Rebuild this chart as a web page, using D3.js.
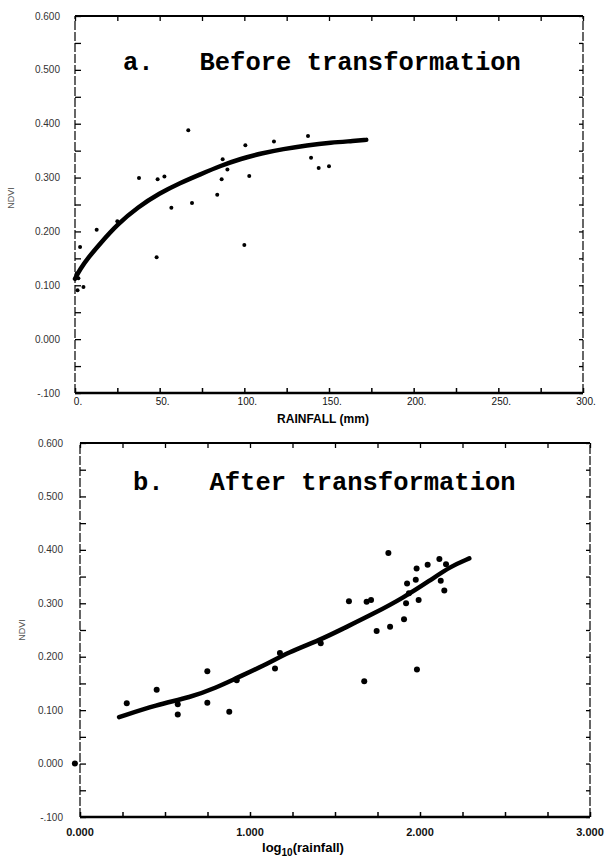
<!DOCTYPE html>
<html><head><meta charset="utf-8">
<script src="https://cdn.jsdelivr.net/npm/d3@7"></script>
<style>body{margin:0;background:#fff}svg{display:block}</style>
</head><body>
<script>
// ---- Panel a data (rainfall mm vs NDVI) ----
const aPointsX = [37.8,48.8,52.8,84,69.1,56.9,25,12.8,3,48.2,1,2,5,1.5,100.6,117.5,137.6,87.2,90,102.9,86.6,100,139.4,143.9,150,66.9];
const aPointsY = [0.299,0.297,0.302,0.268,0.253,0.244,0.219,0.203,0.171,0.152,0.122,0.113,0.097,0.091,0.360,0.367,0.377,0.334,0.315,0.303,0.297,0.175,0.337,0.318,0.321,0.388];
const aCurveX = [0,3,8,15,25,37,50,62,74,86,98,110,123,137,151,165,172];
const aCurveY = [0.112,0.13,0.152,0.178,0.213,0.245,0.271,0.290,0.306,0.322,0.335,0.345,0.353,0.360,0.365,0.368,0.370];
const aXTicks = [0,50,100,150,200,250,300];
const aXTickLabels = ["0.","50.","100.","150.","200.","250.","300."];
// ---- Panel b data (log10 rainfall vs NDVI) ----
const bPointsX = [0.275,0.451,0.575,0.575,0.749,0.749,0.878,0.922,1.147,1.176,1.814,2.114,2.045,1.98,2.153,1.975,1.924,2.122,2.143,1.935,1.992,1.918,1.582,1.686,1.712,1.906,1.824,1.745,1.416,1.982,1.672,-0.03];
const bPointsY = [0.113,0.138,0.111,0.092,0.173,0.114,0.097,0.156,0.178,0.207,0.394,0.383,0.372,0.365,0.373,0.344,0.337,0.342,0.324,0.319,0.306,0.300,0.304,0.303,0.306,0.270,0.256,0.248,0.225,0.176,0.154,0.0];
const bCurveX = [0.23,0.45,0.65,0.80,0.92,1.08,1.23,1.41,1.55,1.73,1.90,2.06,2.18,2.29];
const bCurveY = [0.087,0.110,0.124,0.142,0.160,0.183,0.209,0.231,0.253,0.281,0.310,0.343,0.369,0.384];
const bXTicks = [0,1,2,3];
const bXTickLabels = ["0.000","1.000","2.000","3.000"];
// ---- shared y ticks ----
const yTicks = [0.6,0.5,0.4,0.3,0.2,0.1,0.0,-0.1];
const yTickLabels = ["0.600","0.500","0.400","0.300","0.200","0.100","0.000","-.100"];

const svg = d3.select("body").append("svg").attr("width",606).attr("height",864);

function panel(cfg){
  const x = d3.scaleLinear().domain(cfg.xDomain).range(cfg.xRange);
  const y = d3.scaleLinear().domain([-0.1,0.6]).range(cfg.yRange);
  const g = svg.append("g");
  const [x0,x1] = cfg.xRange, [y0,y1] = cfg.yRange;
  g.append("line").attr("x1",x0).attr("x2",x1).attr("y1",y0).attr("y2",y0).attr("stroke","#000").attr("stroke-width",2.5);
  g.append("line").attr("x1",x0).attr("x2",x1).attr("y1",y1).attr("y2",y1).attr("stroke","#000").attr("stroke-width",2);
  g.append("line").attr("x1",x0).attr("x2",x0).attr("y1",y0).attr("y2",y1).attr("stroke","#000").attr("stroke-width",1.2).attr("stroke-dasharray","9,2");
  g.append("line").attr("x1",x1).attr("x2",x1).attr("y1",y0).attr("y2",y1).attr("stroke","#000").attr("stroke-width",1.2).attr("stroke-dasharray","9,2");
  const xMinor = d3.range(cfg.xDomain[0], cfg.xDomain[1]+1e-9, cfg.xMinorStep);
  const yMinor = d3.range(-0.1, 0.6+1e-9, 0.05);
  const bx = d3.axisBottom(x).tickValues(xMinor).tickSize(-5).tickFormat("");
  g.append("g").attr("transform",`translate(0,${y0})`).call(bx).call(s=>{s.select(".domain").remove();s.selectAll("line").attr("stroke-width",1.5);});
  const tx = d3.axisTop(x).tickValues(xMinor).tickSize(-5).tickFormat("");
  g.append("g").attr("transform",`translate(0,${y1})`).call(tx).call(s=>{s.select(".domain").remove();s.selectAll("line").attr("stroke-width",1.3);});
  const ly = d3.axisLeft(y).tickValues(yMinor).tickSize(-6).tickFormat("");
  g.append("g").attr("transform",`translate(${x0},0)`).call(ly).call(s=>{s.select(".domain").remove();s.selectAll("line").attr("stroke-width",1.3);});
  const ry = d3.axisRight(y).tickValues(yMinor).tickSize(-4).tickFormat("");
  g.append("g").attr("transform",`translate(${x1},0)`).call(ry).call(s=>{s.select(".domain").remove();s.selectAll("line").attr("stroke-width",1.3);});
  g.selectAll(".yl").data(yTicks).join("text").attr("x",x0-cfg.yLabelOff).attr("y",d=>y(d)+3.5)
    .attr("text-anchor","end").attr("font-family","Liberation Sans, Arial, sans-serif").attr("font-size",10).attr("fill","#333")
    .text((d,i)=>yTickLabels[i]);
  g.selectAll(".xl").data(cfg.xTicks).join("text").attr("x",d=>x(d)+cfg.xLabelShift).attr("y",y0+cfg.xLabelDy)
    .attr("text-anchor","middle").attr("font-family","Liberation Sans, Arial, sans-serif").attr("font-size",cfg.xLabelSize).attr("font-weight",cfg.xLabelWeight).attr("fill","#111")
    .text((d,i)=>cfg.xTickLabels[i]);
  const line = d3.line().x(d=>x(d[0])).y(d=>y(d[1])).curve(d3.curveBasis);
  g.append("path").datum(cfg.curveX.map((v,i)=>[v,cfg.curveY[i]])).attr("d",line)
    .attr("fill","none").attr("stroke","#000").attr("stroke-width",4.5).attr("stroke-linecap","round");
  g.selectAll(".pt").data(cfg.ptsX.map((v,i)=>[v,cfg.ptsY[i]])).join("circle")
    .attr("cx",d=>x(d[0])).attr("cy",d=>y(d[1])).attr("r",cfg.r).attr("fill","#000");
  g.append("text").attr("x",cfg.titleX).attr("y",cfg.titleY).attr("xml:space","preserve").style("white-space","pre")
    .attr("font-family","Liberation Mono, Courier New, monospace").attr("font-weight","bold").attr("font-size",25.5).attr("fill","#000")
    .text(cfg.title);
  g.append("text").attr("transform",`translate(${cfg.yTitleX},${cfg.yTitleY}) rotate(-90)`).attr("text-anchor","middle")
    .attr("font-family","Liberation Sans, Arial, sans-serif").attr("font-size",9).attr("fill","#555").text("NDVI");
  return {x,y,g};
}

const A = panel({xDomain:[0,300],xRange:[75,583],yRange:[393,16],xMinorStep:25,xTicks:aXTicks,xTickLabels:aXTickLabels,
  xLabelShift:3,xLabelDy:12,xLabelSize:10,xLabelWeight:"normal",yLabelOff:15,
  curveX:aCurveX,curveY:aCurveY,ptsX:aPointsX,ptsY:aPointsY,r:2,
  title:"a.   Before transformation",titleX:123,titleY:70,yTitleX:14,yTitleY:198});
A.g.append("text").attr("x",323).attr("y",423).attr("text-anchor","middle")
  .attr("font-family","Liberation Sans, Arial, sans-serif").attr("font-weight","bold").attr("font-size",12).attr("fill","#000")
  .text("RAINFALL (mm)");

const B = panel({xDomain:[0,3],xRange:[80,590],yRange:[817,443],xMinorStep:0.25,xTicks:bXTicks,xTickLabels:bXTickLabels,
  xLabelShift:0,xLabelDy:19,xLabelSize:11,xLabelWeight:"bold",yLabelOff:17,
  curveX:bCurveX,curveY:bCurveY,ptsX:bPointsX,ptsY:bPointsY,r:3,
  title:"b.   After transformation",titleX:133,titleY:490,yTitleX:25,yTitleY:630});
const bl = B.g.append("text").attr("x",303).attr("y",852).attr("text-anchor","middle")
  .attr("font-family","Liberation Sans, Arial, sans-serif").attr("font-weight","bold").attr("font-size",13).attr("fill","#000");
bl.append("tspan").text("log");
bl.append("tspan").attr("dy",4).attr("font-size",10).text("10");
bl.append("tspan").attr("dy",-4).text("(rainfall)");
</script>
</body></html>
